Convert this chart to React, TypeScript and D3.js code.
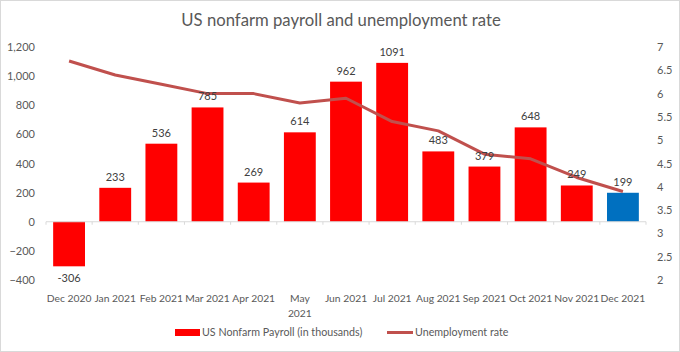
import React from "react";
import * as d3 from "d3";

const categories = [
  "Dec 2020", "Jan 2021", "Feb 2021", "Mar 2021", "Apr 2021", "May 2021", "Jun 2021",
  "Jul 2021", "Aug 2021", "Sep 2021", "Oct 2021", "Nov 2021", "Dec 2021",
];
const tickLabelLines: string[][] = [
  ["Dec 2020"], ["Jan 2021"], ["Feb 2021"], ["Mar 2021"], ["Apr 2021"], ["May", "2021"], ["Jun 2021"],
  ["Jul 2021"], ["Aug 2021"], ["Sep 2021"], ["Oct 2021"], ["Nov 2021"], ["Dec 2021"],
];
const payroll = [-306, 233, 536, 785, 269, 614, 962, 1091, 483, 379, 648, 249, 199];
const unemployment = [6.7, 6.4, 6.2, 6.0, 6.0, 5.8, 5.9, 5.4, 5.2, 4.7, 4.6, 4.2, 3.9];
const leftTicks = [-400, -200, 0, 200, 400, 600, 800, 1000, 1200];
const rightTicks = [2, 2.5, 3, 3.5, 4, 4.5, 5, 5.5, 6, 6.5, 7];

const W = 680;
const H = 352;
const FONT = "Lato, 'Open Sans', sans-serif";
const TXT = "#595959";

export default function App() {
  const x = d3.scaleBand<string>().domain(categories).range([46, 646]).padding(0);
  const yL = d3.scaleLinear().domain([-400, 1200]).range([280, 47]);
  const yR = d3.scaleLinear().domain([2, 7]).range([280, 47]);
  const bw = x.bandwidth() * 0.69;
  const cx = (c: string) => (x(c) as number) + x.bandwidth() / 2;
  const fmt = d3.format(",");

  const line = d3
    .line<number>()
    .x((_, i) => cx(categories[i]))
    .y((d) => yR(d));

  const y0 = yL(0);

  return (
    <svg width={W} height={H} style={{ position: "absolute", left: 0, top: 0, fontFamily: FONT }}>
      <rect x={0.5} y={0.5} width={W - 1} height={H - 1} fill="#fff" stroke="#d9d9d9" />
      <text x={341} y={26} textAnchor="middle" fontSize={16.7} fill={TXT}>
        US nonfarm payroll and unemployment rate
      </text>

      {leftTicks.map((t) => (
        <text key={"l" + t} x={35} y={yL(t) + 4} textAnchor="end" fontSize={11} fill={TXT}>
          {fmt(t)}
        </text>
      ))}
      {rightTicks.map((t) => (
        <text key={"r" + t} x={657} y={yR(t) + 4} textAnchor="start" fontSize={11} fill={TXT}>
          {t}
        </text>
      ))}

      {payroll.map((v, i) => {
        const c = categories[i];
        const top = Math.min(yL(v), y0);
        const h = Math.abs(yL(v) - y0);
        return (
          <rect
            key={"b" + i}
            x={cx(c) - bw / 2}
            y={top}
            width={bw}
            height={h}
            fill={i === payroll.length - 1 ? "#0070C0" : "#FF0000"}
          />
        );
      })}

      <line x1={46} x2={646} y1={y0} y2={y0} stroke="#d9d9d9" strokeWidth={1} />
      {d3.range(categories.length + 1).map((i) => {
        const xx = 46 + i * x.step();
        return <line key={"t" + i} x1={xx} x2={xx} y1={y0} y2={y0 + 3} stroke="#d9d9d9" />;
      })}

      <path d={line(unemployment) || ""} fill="none" stroke="#C0504D" strokeWidth={3} strokeLinejoin="round" />

      {payroll.map((v, i) => (
        <text
          key={"d" + i}
          x={cx(categories[i])}
          y={v >= 0 ? yL(v) - 7 : yL(v) + 16}
          textAnchor="middle"
          fontSize={11}
          fill="#404040"
        >
          {v}
        </text>
      ))}

      {tickLabelLines.map((lines, i) =>
        lines.map((ln, j) => (
          <text
            key={"x" + i + "_" + j}
            x={cx(categories[i])}
            y={302 + j * 15}
            textAnchor="middle"
            fontSize={10.3}
            fill={TXT}
          >
            {ln}
          </text>
        ))
      )}

      <rect x={175} y={329} width={25} height={7} fill="#FF0000" />
      <text x={202} y={336} fontSize={10.7} fill={TXT}>
        US Nonfarm Payroll (in thousands)
      </text>
      <line x1={387} x2={413} y1={332.5} y2={332.5} stroke="#C0504D" strokeWidth={3} />
      <text x={415} y={336} fontSize={10.7} fill={TXT}>
        Unemployment rate
      </text>
    </svg>
  );
}
